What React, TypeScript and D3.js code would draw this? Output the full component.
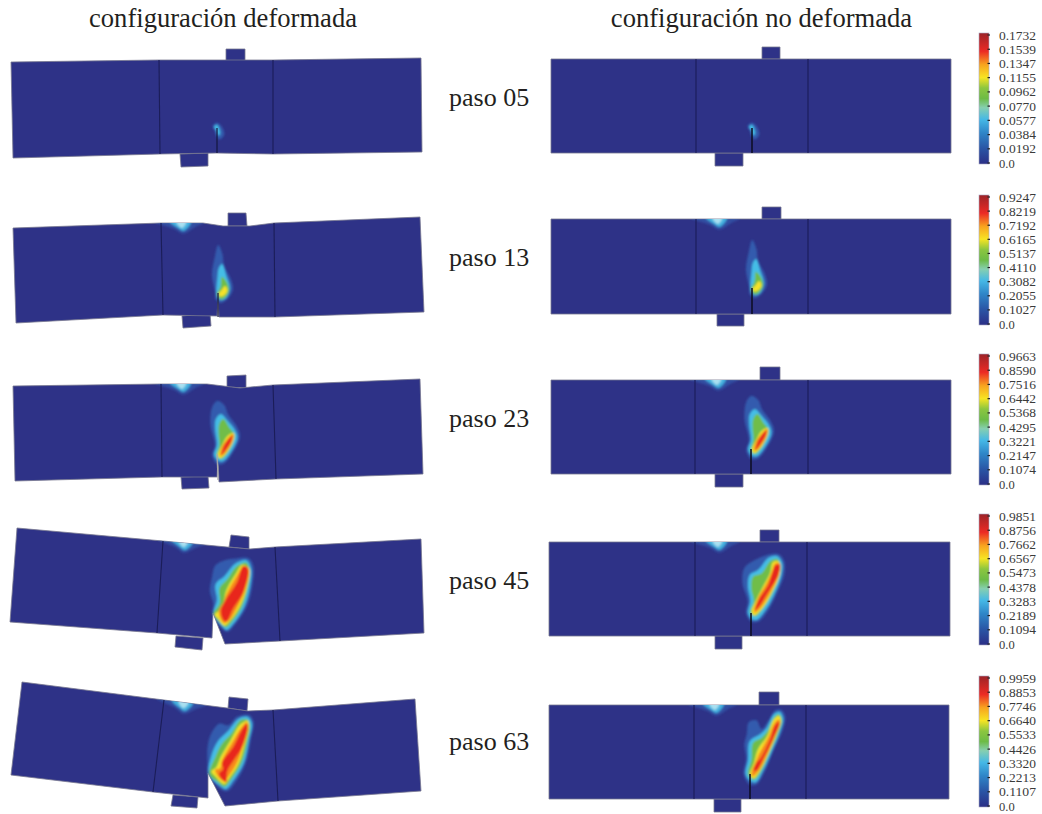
import React from 'react';
import * as d3 from 'd3';

type P = [number, number];

const titles = ['configuración deformada', 'configuración no deformada'];
const stepNames = ['paso 05', 'paso 13', 'paso 23', 'paso 45', 'paso 63'];
const stepTextY = [106, 266, 427, 589, 750];

const ticks05 = ['0.0', '0.0192', '0.0384', '0.0577', '0.0770', '0.0962', '0.1155', '0.1347', '0.1539', '0.1732'];
const ticks13 = ['0.0', '0.1027', '0.2055', '0.3082', '0.4110', '0.5137', '0.6165', '0.7192', '0.8219', '0.9247'];
const ticks23 = ['0.0', '0.1074', '0.2147', '0.3221', '0.4295', '0.5368', '0.6442', '0.7516', '0.8590', '0.9663'];
const ticks45 = ['0.0', '0.1094', '0.2189', '0.3283', '0.4378', '0.5473', '0.6567', '0.7662', '0.8756', '0.9851'];
const ticks63 = ['0.0', '0.1107', '0.2213', '0.3320', '0.4426', '0.5533', '0.6640', '0.7746', '0.8853', '0.9959'];
const tickSets = [ticks05, ticks13, ticks23, ticks45, ticks63];
const legendBottom = [164, 325, 485, 645, 807];
const legendTop = [36, 198, 357, 517, 679];

// undeformed beam: [left, right, top, bottom, line1, line2, crackTipY, crackX]
const flatBeams = [
  [551, 951, 59, 153, 696, 808],
  [551, 951, 219, 314, 696, 808],
  [551, 951, 380, 474, 695, 808],
  [549, 950, 542, 636, 695, 807],
  [549, 949, 705, 799, 694, 806],
];
const flatTop = [[762, 780, 47], [762, 781, 207], [760, 780, 367], [760, 779, 530], [759, 779, 692]];
const flatBottom = [[715, 743, 166], [717, 744, 326], [715, 743, 487], [715, 742, 649], [714, 741, 812]];
const flatTips: P[] = [[752, 128], [752, 288], [751, 449], [751, 613], [750, 774]];
const flatClouds: (P | null)[] = [null, [717, 219], [716, 380], [717, 542], [714, 705]];

// deformed beam outlines
const bentOutline: P[][] = [
  [[11, 62], [159, 60], [273, 60], [421, 58], [422, 152], [273, 154], [217, 153], [160, 154], [13, 158]],
  [[13, 228], [161, 223], [203, 223], [223, 226], [250, 226], [274, 223], [420, 217], [424, 312], [275, 317], [219, 317], [218, 300], [217, 316], [163, 315], [16, 323]],
  [[13, 386], [161, 384], [207, 384], [240, 388], [273, 385], [420, 379], [423, 474], [276, 479], [219, 482], [218, 460], [217, 477], [162, 477], [15, 481]],
  [[17, 528], [163, 541], [227, 547], [250, 549], [275, 547], [421, 539], [424, 633], [280, 641], [225, 644], [213, 613], [212, 638], [157, 633], [10, 622]],
  [[22, 682], [164, 700], [227, 708], [248, 711], [273, 710], [415, 699], [421, 791], [278, 801], [225, 806], [208, 773], [208, 798], [153, 792], [11, 775]],
];
const bentLines: [P, P][][] = [
  [[[159, 60], [160, 154]], [[273, 60], [273, 154]]],
  [[[161, 223], [163, 315]], [[274, 223], [275, 317]]],
  [[[161, 384], [162, 477]], [[273, 385], [276, 479]]],
  [[[163, 541], [157, 633]], [[275, 547], [280, 641]]],
  [[[164, 700], [153, 792]], [[273, 710], [278, 801]]],
];
const bentTopPlate: P[][] = [
  [[226, 49], [245, 49], [245, 61], [226, 61]],
  [[228, 213], [246, 213], [247, 226], [228, 226]],
  [[227, 376], [246, 375], [246, 388], [227, 387]],
  [[231, 535], [249, 537], [249, 549], [229, 547]],
  [[229, 697], [248, 699], [247, 711], [228, 708]],
];
const bentBottomPlate: P[][] = [
  [[180, 154], [208, 153], [208, 166], [181, 167]],
  [[182, 316], [210, 313], [211, 326], [183, 328]],
  [[181, 477], [208, 476], [209, 488], [182, 489]],
  [[176, 636], [203, 638], [202, 650], [175, 647]],
  [[173, 795], [198, 797], [197, 808], [171, 806]],
];
const bentTips: P[] = [[217, 128], [218, 293], [217, 454], [214, 613], [210, 773]];
const bentCrackEnd: (P | null)[] = [[217, 153], [218, 317], [218, 480], null, null];
const bentCrackColor = ['#14163f', '#14163f', '#a9a9a9', '', ''];
const bentClouds: (P | null)[] = [null, [181, 223], [181, 384], [183, 542], [183, 703]];
const bentCloudTilt = [0, 0, 0, 5, 7];

// damage contours, traced on a 3x grid, with the crack tip of each trace
const levelColors = ['#3565b8', '#45bde6', '#6fbd4a', '#f4e22a', '#f78a1e', '#e8261e'];
const levelGrow = [1.04, 1.03, 1.03, 1.07, 1.14, 1.22];

const contours05: P[][] = [
  [[-12, -6], [0, -15], [12, -6], [21, 18], [9, 33], [0, 27], [-6, 9]],
  [[-9, -3], [0, -9], [6, 0], [9, 18], [3, 21], [-3, 6]],
];
const contours13: P[][] = [
  [[178, 160], [188, 125], [200, 150], [205, 185], [225, 225], [230, 255], [215, 280], [195, 292], [180, 280], [180, 265], [170, 210]],
  [[190, 190], [200, 180], [212, 215], [222, 250], [212, 278], [195, 285], [183, 272], [182, 262], [185, 225]],
  [[198, 218], [208, 225], [220, 255], [208, 278], [195, 283], [185, 268], [195, 245]],
  [[197, 258], [208, 245], [215, 258], [205, 272], [195, 275], [189, 268]],
];
const contours23: P[][] = [
  [[170, 130], [185, 112], [205, 125], [215, 150], [240, 185], [250, 215], [230, 260], [205, 292], [185, 295], [170, 270], [178, 240], [165, 180]],
  [[180, 165], [195, 150], [215, 170], [238, 200], [243, 220], [225, 260], [200, 288], [185, 285], [175, 268], [183, 240], [178, 195]],
  [[190, 180], [202, 165], [220, 190], [235, 210], [230, 235], [210, 270], [195, 282], [183, 272], [190, 240], [188, 205]],
  [[215, 215], [232, 208], [232, 225], [210, 265], [193, 278], [187, 270], [200, 240]],
  [[215, 225], [229, 212], [228, 228], [208, 262], [195, 270], [200, 245]],
  [[213, 230], [226, 217], [224, 230], [208, 255], [200, 265], [205, 245]],
];
const contours45: P[][] = [
  [[195, 145], [225, 122], [270, 105], [295, 105], [310, 125], [310, 165], [290, 215], [265, 265], [235, 300], [215, 300], [200, 275], [205, 240], [190, 190]],
  [[210, 165], [235, 150], [265, 115], [290, 110], [305, 130], [303, 165], [285, 215], [260, 262], [232, 295], [215, 293], [205, 275], [212, 240], [205, 200]],
  [[220, 170], [245, 160], [270, 125], [290, 118], [300, 135], [296, 170], [278, 215], [250, 262], [228, 285], [212, 275], [222, 240], [215, 205]],
  [[255, 190], [270, 160], [278, 130], [295, 130], [298, 160], [275, 215], [248, 260], [225, 280], [218, 270], [232, 235]],
  [[258, 195], [275, 160], [283, 138], [295, 138], [293, 165], [270, 215], [242, 258], [228, 268], [237, 232]],
  [[265, 195], [283, 145], [293, 145], [290, 170], [265, 212], [240, 250], [232, 255], [245, 225]],
];
const contours63: P[][] = [
  [[172, 150], [178, 115], [200, 110], [215, 135], [235, 110], [255, 80], [272, 80], [283, 100], [275, 140], [250, 195], [225, 255], [200, 295], [180, 295], [163, 265], [170, 220], [165, 180]],
  [[180, 170], [210, 150], [230, 130], [250, 92], [268, 85], [278, 105], [268, 145], [245, 200], [220, 255], [198, 290], [180, 285], [168, 265], [175, 225]],
  [[190, 175], [215, 160], [232, 140], [252, 100], [265, 92], [274, 108], [262, 150], [240, 200], [215, 255], [195, 282], [180, 275], [175, 262], [185, 225]],
  [[205, 195], [232, 155], [250, 110], [265, 100], [270, 115], [258, 150], [235, 205], [210, 255], [193, 275], [183, 265], [195, 230]],
  [[210, 205], [235, 160], [250, 125], [262, 115], [265, 125], [252, 155], [232, 205], [205, 255], [192, 265], [190, 255], [200, 230]],
  [[215, 215], [240, 165], [250, 135], [260, 125], [260, 135], [248, 165], [225, 210], [205, 245], [198, 245], [205, 225]],
];
const bentContours45: P[][] = [
  [[218, 205], [228, 170], [255, 155], [290, 150], [325, 150], [338, 175], [335, 225], [320, 285], [285, 340], [262, 362], [245, 350], [220, 312], [222, 280], [212, 245]],
  [[228, 225], [255, 200], [285, 165], [318, 155], [332, 180], [328, 235], [312, 290], [280, 340], [260, 358], [245, 345], [222, 312], [232, 270]],
  [[240, 235], [262, 210], [290, 172], [318, 162], [328, 185], [322, 235], [305, 290], [275, 335], [258, 350], [240, 335], [222, 312], [240, 280]],
  [[260, 245], [288, 195], [305, 172], [325, 182], [318, 235], [298, 290], [270, 330], [255, 342], [235, 320], [228, 312], [250, 290]],
  [[262, 255], [290, 205], [308, 180], [320, 190], [312, 240], [290, 290], [268, 325], [255, 330], [242, 300], [255, 275]],
  [[262, 268], [290, 225], [305, 185], [317, 190], [305, 250], [280, 290], [265, 320], [258, 320], [250, 295]],
];
const bentContours63: P[][] = [
  [[205, 265], [215, 225], [240, 195], [265, 200], [290, 175], [325, 170], [338, 190], [330, 240], [315, 310], [285, 365], [262, 390], [245, 385], [208, 345], [205, 310]],
  [[215, 290], [235, 245], [265, 215], [295, 180], [322, 175], [334, 195], [325, 245], [310, 310], [280, 360], [258, 385], [240, 375], [208, 342]],
  [[228, 290], [245, 255], [275, 222], [300, 185], [320, 182], [328, 200], [320, 250], [303, 310], [275, 355], [255, 378], [235, 365], [210, 342]],
  [[245, 290], [272, 245], [300, 200], [320, 190], [323, 210], [312, 255], [295, 310], [268, 352], [255, 368], [228, 345], [218, 332], [232, 320]],
  [[250, 300], [278, 250], [300, 215], [315, 200], [318, 215], [305, 260], [290, 305], [265, 345], [255, 355], [235, 335], [232, 325], [245, 320]],
  [[252, 305], [280, 265], [300, 225], [313, 208], [315, 222], [300, 270], [283, 295], [265, 325], [262, 352], [248, 340], [245, 330], [255, 320]],
];
const flatContours = [contours05, contours13, contours23, contours45, contours63];
const flatTrace: P[] = [[0, 0], [187, 265], [183, 268], [213, 278], [180, 268]];
const bentContours = [contours05, contours13, contours23, bentContours45, bentContours63];
const bentTrace: P[] = [[0, 0], [187, 265], [183, 268], [222, 310], [210, 340]];

// compression cloud below the loaded top edge, traced on the same grid
const cloudLevels: P[][] = [
  [[-80, -3], [70, -3], [40, 14], [6, 32], [-20, 18], [-50, 8]],
  [[-34, -3], [30, -3], [8, 24], [-10, 15]],
  [[-14, -3], [16, -3], [3, 15]],
];
const cloudColors = ['#3565b8', '#45bde6', '#b6e6f2'];

const legendStops: [number, string][] = [
  [0, '#2b2f86'], [0.12, '#2a55a5'], [0.24, '#2f86c8'], [0.34, '#45b8e6'], [0.43, '#86cfb0'],
  [0.5, '#6dbb45'], [0.58, '#8cc63f'], [0.66, '#f7e423'], [0.76, '#f8a21f'], [0.86, '#ec2a24'], [1, '#9c2328'],
];

const NAVY = '#2e3387';
const DARK = '#1b1d58';
const FONT = '"Liberation Serif", "Times New Roman", serif';

const grid = d3.scaleLinear().domain([0, 3]).range([0, 1]);
const path = d3.line<P>();
const blob = d3.line<P>().curve(d3.curveCatmullRomClosed.alpha(0.5));

function mapContour(shape: P[], trace: P, tip: P, grow: number): P[] {
  const [cx, cy] = d3.polygonCentroid(shape);
  return shape.map(([x, y]) => [
    tip[0] + grid(cx + (x - cx) * grow - trace[0]),
    tip[1] + grid(cy + (y - cy) * grow - trace[1]),
  ]);
}

function Heat({ id, clip, shapes, trace, tip, cloud, tilt }: { id: string; clip: P[]; shapes: P[][]; trace: P; tip: P; cloud: P | null; tilt: number }) {
  return (
    <g clipPath={`url(#${id})`}>
      <clipPath id={id}>
        <path d={path(clip) + 'Z'} />
      </clipPath>
      <g filter="url(#soft)">
        {cloud && (
          <g transform={`translate(${cloud[0]},${cloud[1]}) rotate(${tilt})`}>
            {cloudLevels.map((s, i) => (
              <path key={i} d={blob(s.map(([x, y]) => [grid(x), grid(y)] as P)) || ''} fill={cloudColors[i]} opacity={i === 0 ? 0.55 : 0.9} />
            ))}
          </g>
        )}
        {shapes.map((s, i) => (
          <path key={i} d={blob(mapContour(s, trace, tip, levelGrow[i])) || ''} fill={levelColors[i]} opacity={i === 0 ? 0.8 : 1} />
        ))}
      </g>
    </g>
  );
}

function Legend({ idx }: { idx: number }) {
  const labels = tickSets[idx];
  const max = +labels[labels.length - 1];
  const y = d3.scaleLinear().domain([0, max]).range([legendBottom[idx], legendTop[idx]]);
  return (
    <g>
      <rect x={979} y={y(max) - 3} width={10} height={y(0) - y(max) + 3} fill="url(#ramp)" stroke="#a9a9c4" strokeWidth={0.6} />
      {labels.map((t) => (
        <g key={t}>
          <line x1={987.5} x2={990} y1={y(+t) - 1} y2={y(+t) - 1} stroke="#222" strokeWidth={1.2} />
          <text x={999} y={y(+t) + 3.5} fontFamily={FONT} fontSize={12.5} fill="#3a3a3a" textLength={t.length === 3 ? undefined : 37} lengthAdjust="spacingAndGlyphs">{t}</text>
        </g>
      ))}
    </g>
  );
}

export default function App() {
  return (
    <svg width={1042} height={814} viewBox="0 0 1042 814" style={{ position: 'absolute', left: 0, top: 0, background: '#fff' }}>
      <defs>
        <linearGradient id="ramp" x1="0" y1="1" x2="0" y2="0">
          {legendStops.map(([o, c]) => <stop key={o} offset={o} stopColor={c} />)}
        </linearGradient>
        <filter id="soft" x="-20%" y="-20%" width="140%" height="140%">
          <feGaussianBlur stdDeviation={0.8} />
        </filter>
        <filter id="edge" x="-5%" y="-5%" width="110%" height="110%">
          <feGaussianBlur stdDeviation={0.35} />
        </filter>
      </defs>

      <text x={223} y={27} textAnchor="middle" fontFamily={FONT} fontSize={26.6} fill="#231f20">{titles[0]}</text>
      <text x={761.5} y={27} textAnchor="middle" fontFamily={FONT} fontSize={26.6} fill="#231f20">{titles[1]}</text>

      {stepNames.map((s, i) => {
        const [l, r, t, b, la, lb] = flatBeams[i];
        const tip = flatTips[i];
        const rectPts: P[] = [[l, t], [r, t], [r, b], [l, b]];
        const [tl, tr, tt] = flatTop[i];
        const [bl, br, bb] = flatBottom[i];
        return (
          <g key={s}>
            <text x={449} y={stepTextY[i]} fontFamily={FONT} fontSize={26} fill="#231f20">{s}</text>

            {/* deformed */}
            <g filter="url(#edge)">
              <path d={path(bentTopPlate[i]) + 'Z'} fill={NAVY} stroke="#77778f" strokeWidth={0.8} />
              <path d={path(bentBottomPlate[i]) + 'Z'} fill={NAVY} stroke="#77778f" strokeWidth={0.8} />
              <path d={path(bentOutline[i]) + 'Z'} fill={NAVY} stroke="#77778f" strokeWidth={0.8} />
            </g>
            <Heat id={`b${i}`} clip={bentOutline[i]} shapes={bentContours[i]} trace={bentTrace[i]} tip={bentTips[i]} cloud={bentClouds[i]} tilt={bentCloudTilt[i]} />
            {bentLines[i].map((seg, j) => (
              <path key={j} d={path(seg) || ''} stroke={DARK} strokeWidth={1.1} fill="none" />
            ))}
            {bentCrackEnd[i] && (
              <path d={path([bentTips[i], bentCrackEnd[i] as P]) || ''} stroke={bentCrackColor[i]} strokeWidth={1.2} fill="none" />
            )}

            {/* undeformed */}
            <g filter="url(#edge)">
              <path d={path([[tl, tt], [tr, tt], [tr, t], [tl, t]]) + 'Z'} fill={NAVY} stroke="#77778f" strokeWidth={0.8} />
              <path d={path([[bl, b], [br, b], [br, bb], [bl, bb]]) + 'Z'} fill={NAVY} stroke="#77778f" strokeWidth={0.8} />
              <path d={path(rectPts) + 'Z'} fill={NAVY} stroke="#77778f" strokeWidth={0.8} />
            </g>
            <Heat id={`f${i}`} clip={rectPts} shapes={flatContours[i]} trace={flatTrace[i]} tip={tip} cloud={flatClouds[i]} tilt={0} />
            <path d={path([[la, t], [la, b]]) || ''} stroke={DARK} strokeWidth={1.1} fill="none" />
            <path d={path([[lb, t], [lb, b]]) || ''} stroke={DARK} strokeWidth={1.1} fill="none" />
            <path d={path([tip, [tip[0], b]]) || ''} stroke="#0c0c20" strokeWidth={1.5} fill="none" />

            <Legend idx={i} />
          </g>
        );
      })}
    </svg>
  );
}
